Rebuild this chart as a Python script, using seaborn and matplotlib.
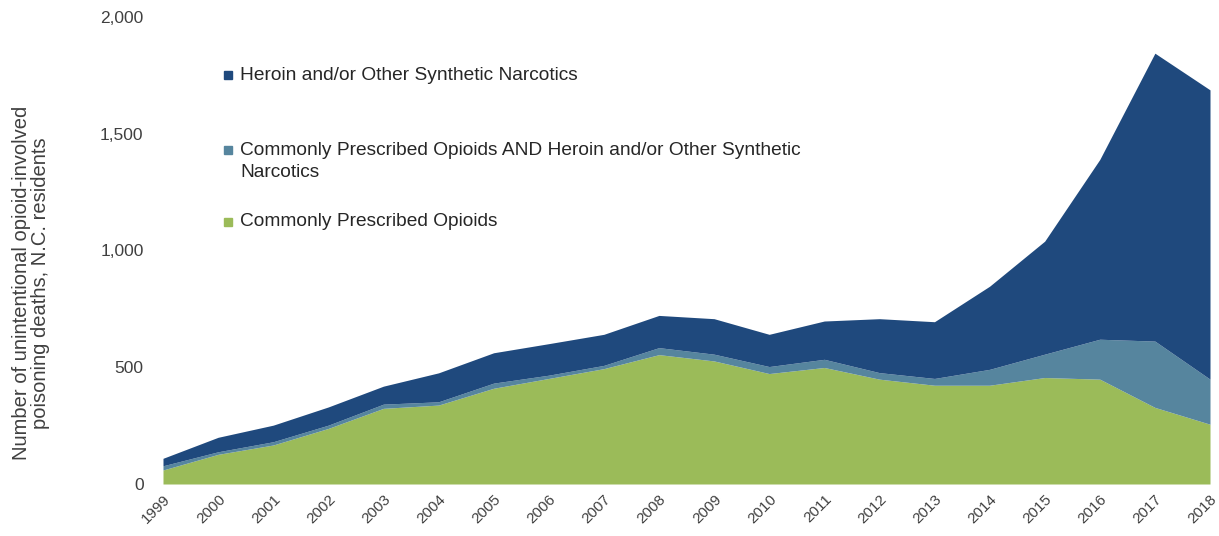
import numpy as np
import matplotlib
matplotlib.use("Agg")
import matplotlib.pyplot as plt
import seaborn as sns
from matplotlib.patches import Rectangle
from matplotlib.ticker import FuncFormatter

# Data (deaths per year, N.C. residents)
years = list(range(1999, 2019))
prescribed = [60, 127, 167, 238, 324, 338, 410, 452, 494, 554,
              527, 473, 499, 449, 423, 423, 456, 449, 328, 256]
prescribed_and_heroin = [18, 11, 14, 14, 18, 14, 22, 14, 14, 30,
                         29, 30, 35, 28, 29, 68, 100, 171, 284, 193]
heroin_synthetic = [32, 62, 71, 78, 77, 124, 130, 135, 133, 138,
                    152, 138, 164, 231, 243, 356, 484, 770, 1233, 1239]

labels = ["Commonly Prescribed Opioids",
          "Commonly Prescribed Opioids AND Heroin and/or Other Synthetic\nNarcotics",
          "Heroin and/or Other Synthetic Narcotics"]
colors = ["#9BBB59", "#56859E", "#1F497D"]

sns.set_theme(style="white")
plt.rcParams['font.family'] = ['Liberation Sans', 'DejaVu Sans']

W, H = 1219, 536
fig = plt.figure(figsize=(W / 100, H / 100), dpi=100)
ax = fig.add_axes([163 / W, 52 / H, (1210 - 163) / W, (484 - 17) / H])

ax.stackplot(years, prescribed, prescribed_and_heroin, heroin_synthetic,
             colors=colors, linewidth=0)

ax.set_xlim(years[0], years[-1])
ax.set_ylim(0, 2000)
ax.set_yticks([0, 500, 1000, 1500, 2000])
ax.yaxis.set_major_formatter(FuncFormatter(lambda v, p: f"{int(v):,}"))
ax.set_xticks(years)
ax.set_xticklabels([str(y) for y in years], rotation=45, ha='right',
                   rotation_mode='anchor', fontsize=11, color='#404040')
ax.tick_params(axis='y', labelsize=12.5, colors='#404040', pad=14, length=0)
ax.tick_params(axis='x', pad=6, length=0)
sns.despine(ax=ax, left=True, bottom=True, top=True, right=True)

fig.text(31 / W, 1 - 283 / H,
         "Number of unintentional opioid-involved\npoisoning deaths, N.C. residents",
         rotation=90, ha='center', va='center', fontsize=14.5, color='#404040',
         linespacing=1.0)

# legend, laid out like the original (top entry first)
legend_rows = [(labels[2], colors[2], 75),
               (labels[1], colors[1], 150),
               (labels[0], colors[0], 222)]
for text, col, ypix in legend_rows:
    fig.patches.append(Rectangle(((228 - 4) / W, 1 - (ypix + 4) / H), 8 / W, 8 / H,
                                 transform=fig.transFigure, color=col))
    if '\n' in text:
        fig.text(240 / W, 1 - (ypix - 8) / H, text, ha='left', va='top',
                 fontsize=13.8, color='#262626', linespacing=1.35)
    else:
        fig.text(240 / W, 1 - ypix / H, text, ha='left', va='center',
                 fontsize=13.8, color='#262626')

plt.savefig('out.png', dpi=100)
